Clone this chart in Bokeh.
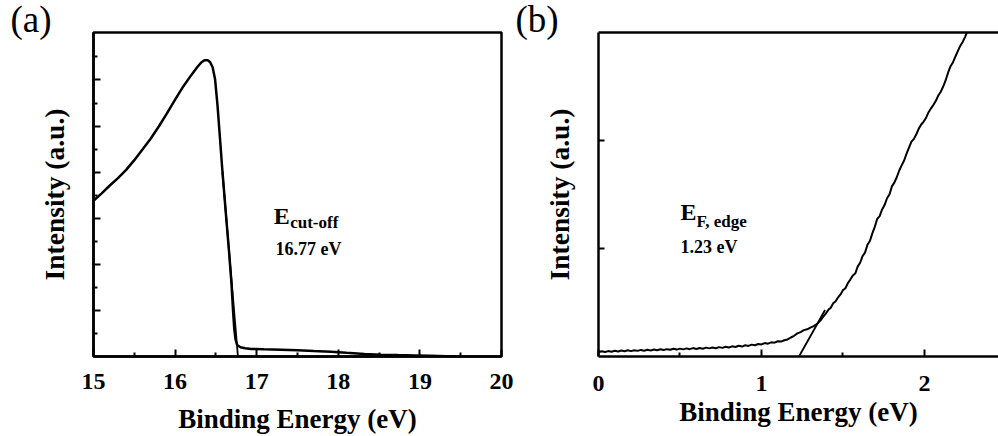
from bokeh.plotting import figure
from bokeh.layouts import row
from bokeh.models import Label, FixedTicker, LinearAxis, Range1d, Title
from bokeh.embed import file_html
from bokeh.resources import INLINE

# ---------------- data: panel (a) secondary-electron cut-off ----------------
a_energy = [15.00, 15.10, 15.20, 15.30, 15.40, 15.50, 15.60, 15.70, 15.80, 15.90,
            16.00, 16.10, 16.20, 16.27, 16.32, 16.36, 16.40, 16.43, 16.46, 16.49,
            16.52, 16.55, 16.58, 16.62, 16.66, 16.69, 16.71, 16.725, 16.74, 16.76,
            16.80, 16.86, 16.93, 17.09, 17.30, 17.50, 17.70, 17.91, 18.10, 18.32,
            18.52, 18.73, 18.93, 19.13, 19.32, 19.50]
a_intensity = [6.76, 7.08, 7.42, 7.74, 8.10, 8.52, 8.98, 9.45, 9.98, 10.55,
               11.15, 11.72, 12.22, 12.55, 12.76, 12.86, 12.86, 12.77, 12.55, 12.03,
               10.89, 9.47, 8.04, 6.30, 4.60, 3.20, 2.00, 1.20, 0.75, 0.50,
               0.40, 0.36, 0.33, 0.31, 0.29, 0.27, 0.24, 0.21, 0.16, 0.11,
               0.08, 0.06, 0.045, 0.03, 0.015, 0.0]
a_fit_energy = [16.77, 16.58]
a_fit_intensity = [0.0, 8.0]
a_xticks = [15, 16, 17, 18, 19, 20]
a_xminor = [15.5, 16.5, 17.5, 18.5, 19.5]
a_yticks = [2, 4, 6, 8, 10, 12]
a_yminor = [1, 3, 5, 7, 9, 11, 13]

# ---------------- data: panel (b) Fermi edge ----------------
b_energy = [0.000, 0.020, 0.040, 0.060, 0.080, 0.100, 0.120, 0.140, 0.160, 0.180,
            0.200, 0.220, 0.240, 0.260, 0.280, 0.300, 0.320, 0.340, 0.360, 0.380,
            0.400, 0.420, 0.440, 0.460, 0.480, 0.500, 0.520, 0.540, 0.560, 0.580,
            0.600, 0.620, 0.640, 0.660, 0.680, 0.700, 0.720, 0.740, 0.760, 0.780,
            0.800, 0.820, 0.840, 0.860, 0.880, 0.900, 0.920, 0.940, 0.960, 0.980,
            1.000, 1.020, 1.040, 1.060, 1.080, 1.100, 1.120, 1.140, 1.160, 1.180,
            1.200, 1.220, 1.240, 1.260, 1.280, 1.300, 1.320, 1.340, 1.360, 1.380,
            1.395, 1.410, 1.425, 1.440, 1.455, 1.470, 1.485, 1.500, 1.515, 1.530,
            1.545, 1.560, 1.575, 1.590, 1.605, 1.620, 1.635, 1.650, 1.665, 1.680,
            1.695, 1.710, 1.725, 1.740, 1.755, 1.770, 1.785, 1.800, 1.815, 1.830,
            1.845, 1.860, 1.875, 1.890, 1.905, 1.920, 1.935, 1.950, 1.965, 1.980,
            1.995, 2.010, 2.025, 2.040, 2.055, 2.070, 2.085, 2.100, 2.115, 2.130,
            2.145, 2.160, 2.175, 2.190, 2.205, 2.220, 2.235, 2.250, 2.265, 2.280]
b_intensity = [0.040, 0.048, 0.041, 0.050, 0.044, 0.053, 0.046, 0.055, 0.049, 0.058,
               0.050, 0.057, 0.052, 0.061, 0.054, 0.062, 0.056, 0.064, 0.058, 0.067,
               0.060, 0.068, 0.062, 0.071, 0.064, 0.073, 0.066, 0.075, 0.068, 0.078,
               0.070, 0.079, 0.072, 0.082, 0.075, 0.084, 0.077, 0.087, 0.080, 0.090,
               0.083, 0.094, 0.088, 0.099, 0.092, 0.104, 0.098, 0.110, 0.104, 0.116,
               0.112, 0.124, 0.119, 0.131, 0.128, 0.141, 0.138, 0.150, 0.158, 0.176,
               0.192, 0.214, 0.226, 0.244, 0.252, 0.268, 0.282, 0.300, 0.330, 0.372,
               0.398, 0.432, 0.452, 0.492, 0.512, 0.548, 0.575, 0.615, 0.632, 0.680,
               0.712, 0.750, 0.768, 0.832, 0.868, 0.930, 0.962, 1.035, 1.070, 1.140,
               1.200, 1.275, 1.300, 1.362, 1.402, 1.465, 1.500, 1.575, 1.610, 1.660,
               1.722, 1.770, 1.815, 1.878, 1.935, 1.990, 2.015, 2.058, 2.110, 2.148,
               2.175, 2.212, 2.262, 2.298, 2.330, 2.368, 2.418, 2.452, 2.500, 2.558,
               2.630, 2.688, 2.725, 2.778, 2.830, 2.878, 2.915, 2.962, 3.020, 3.060]
b_fit_energy = [1.23, 1.39]
b_fit_intensity = [0.0, 0.43]
b_xticks = [0, 1, 2]
b_xminor = [0.5, 1.5]
b_yticks = [1, 2]

SERIF = "Liberation Serif"


def style_axes(p, xt, xm, yt, ym, ymajor_len, yminor_len, tick_standoff, label_standoff):
    xa = p.xaxis[0]
    xa.ticker = FixedTicker(ticks=xt, minor_ticks=xm)
    xa.axis_label = "Binding Energy (eV)"
    xa.axis_label_text_font = SERIF
    xa.axis_label_text_font_style = "bold"
    xa.axis_label_text_font_size = "27px"
    xa.axis_label_text_color = "black"
    xa.axis_label_standoff = label_standoff
    xa.major_label_text_font = SERIF
    xa.major_label_text_font_style = "bold"
    xa.major_label_text_font_size = "24px"
    xa.major_label_text_color = "black"
    xa.major_label_standoff = tick_standoff
    xa.axis_line_width = 2.5
    xa.axis_line_color = "black"
    xa.major_tick_in = 7
    xa.major_tick_out = 0
    xa.minor_tick_in = 4
    xa.minor_tick_out = 0
    xa.major_tick_line_width = 2
    xa.minor_tick_line_width = 2
    xa.major_tick_line_color = "black"
    xa.minor_tick_line_color = "black"

    ya = p.yaxis[0]
    ya.ticker = FixedTicker(ticks=yt, minor_ticks=ym)
    ya.major_label_overrides = {t: "" for t in yt}
    ya.axis_label = "Intensity (a.u.)"
    ya.axis_label_text_font = SERIF
    ya.axis_label_text_font_style = "bold"
    ya.axis_label_text_font_size = "27.5px"
    ya.axis_label_text_color = "black"
    ya.axis_label_standoff = 24
    ya.major_label_standoff = 0
    ya.axis_line_width = 2.5
    ya.axis_line_color = "black"
    ya.major_tick_in = ymajor_len
    ya.major_tick_out = 0
    ya.minor_tick_in = yminor_len
    ya.minor_tick_out = 0
    ya.major_tick_line_width = 2
    ya.minor_tick_line_width = 2
    ya.major_tick_line_color = "black"
    ya.minor_tick_line_color = "black"
    p.xgrid.visible = False
    p.ygrid.visible = False


def panel_title(letter):
    return Title(text=letter, align="left", offset=-83, standoff=-15,
                 text_font=SERIF, text_font_style="normal", text_font_size="37px",
                 text_color="black")


def note(x, y, text, size):
    return Label(x=x, y=y, text=text, text_font=SERIF, text_font_style="bold",
                 text_font_size=size, text_color="black", text_baseline="alphabetic")


# ---------------- panel (a) ----------------
pa = figure(width=515, height=436, x_range=Range1d(15, 20), y_range=Range1d(0, 14.06),
            output_backend="svg", toolbar_location=None,
            min_border_left=93, min_border_right=14, min_border_top=32, min_border_bottom=75,
            background_fill_color="white", border_fill_color="white")
pa.title = panel_title("(a)")
pa.outline_line_color = "black"
pa.outline_line_width = 2.5
style_axes(pa, a_xticks, a_xminor, a_yticks, a_yminor, 7, 4, 17, 12)
pa.line(a_energy, a_intensity, line_color="black", line_width=2.5)
pa.line(a_fit_energy, a_fit_intensity, line_color="black", line_width=1.8)

pa.add_layout(note(17.21, 6.09, "E", "24px"))
pa.add_layout(note(17.41, 5.83, "cut-off", "17px"))
pa.add_layout(note(17.23, 4.68, "16.77 eV", "18px"))

# ---------------- panel (b) ----------------
pb = figure(width=483, height=436, x_range=Range1d(0, 2.454), y_range=Range1d(0, 3.0),
            output_backend="svg", toolbar_location=None,
            min_border_left=83, min_border_right=0, min_border_top=32, min_border_bottom=78,
            background_fill_color="white", border_fill_color="white")
pb.title = panel_title("(b)")
pb.outline_line_color = None
style_axes(pb, b_xticks, b_xminor, b_yticks, [], 6, 0, 19, 3)
top_axis = LinearAxis(ticker=FixedTicker(ticks=[]),
                      axis_line_width=2.5, axis_line_color="black",
                      major_tick_in=0, major_tick_out=0, minor_tick_in=0, minor_tick_out=0,
                      major_label_standoff=0)
pb.add_layout(top_axis, "above")
pb.line(b_energy, b_intensity, line_color="black", line_width=2)
pb.line(b_fit_energy, b_fit_intensity, line_color="black", line_width=1.8)

pb.add_layout(note(0.503, 1.334, "E", "24px"))
pb.add_layout(note(0.601, 1.247, "F, edge", "17px"))
pb.add_layout(note(0.503, 1.012, "1.23 eV", "18px"))

layout = row(pa, pb)
open("out.html", "w").write(file_html(layout, INLINE))
